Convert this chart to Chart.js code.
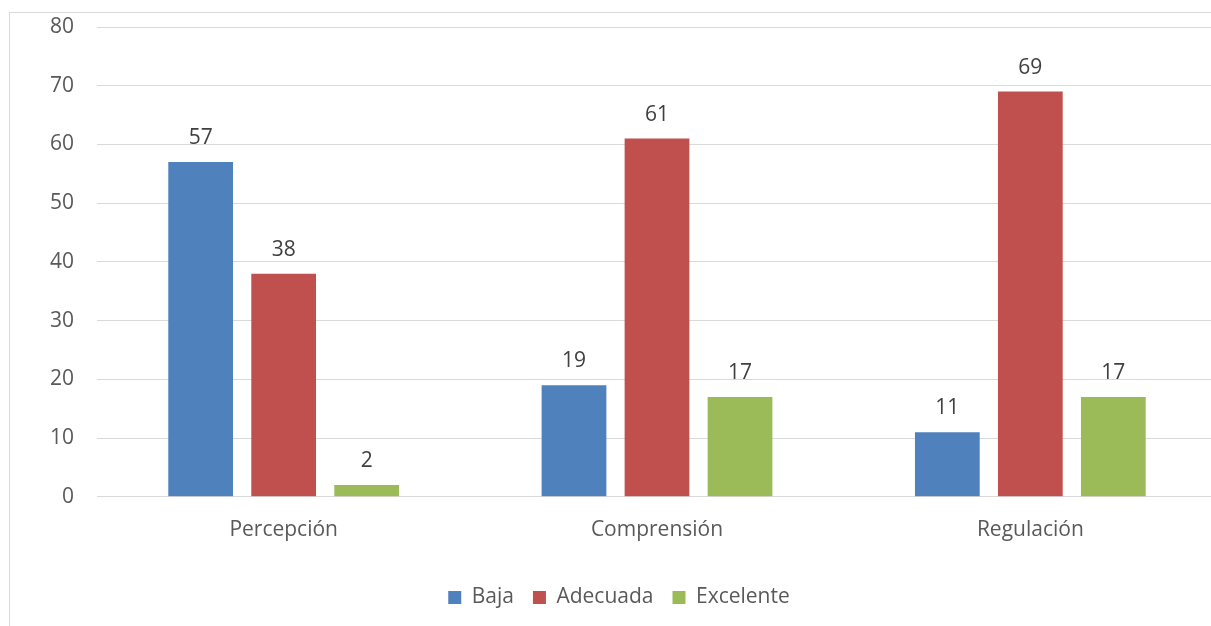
<!DOCTYPE html>
<html>
<head>
<meta charset="utf-8">
<script src="https://cdn.jsdelivr.net/npm/chart.js@4/dist/chart.umd.min.js"></script>
<style>
  html, body { margin: 0; padding: 0; background: #fff; overflow: hidden; }
  #wrap { position: absolute; left: 0; top: 0; width: 1240px; height: 626px; }
</style>
</head>
<body>
<div id="wrap"><canvas id="c"></canvas></div>
<script>
const categories = ['Percepción', 'Comprensión', 'Regulación'];
const seriesNames = ['Baja', 'Adecuada', 'Excelente'];
const baja = [57, 19, 11];
const adecuada = [38, 61, 69];
const excelente = [2, 17, 17];
const yTicks = [0, 10, 20, 30, 40, 50, 60, 70, 80];

const colors = ['#4F81BD', '#C0504D', '#9BBB59'];
const FONT = "'Open Sans', 'Noto Sans', sans-serif";
const FONT_SIZE = 21;

// Thin frame around the chart, like an office chart object
const framePlugin = {
  id: 'frame',
  beforeDraw(chart) {
    const ctx = chart.ctx;
    ctx.save();
    ctx.strokeStyle = '#d9d9d9';
    ctx.lineWidth = 1;
    ctx.strokeRect(9.5, 12.5, chart.width, chart.height);
    ctx.restore();
  }
};

// Value labels above each bar
const valueLabels = {
  id: 'valueLabels',
  afterDatasetsDraw(chart) {
    const ctx = chart.ctx;
    ctx.save();
    ctx.font = FONT_SIZE + 'px ' + FONT;
    ctx.fillStyle = '#404040';
    ctx.textAlign = 'center';
    ctx.textBaseline = 'middle';
    chart.data.datasets.forEach((ds, i) => {
      chart.getDatasetMeta(i).data.forEach((bar, j) => {
        ctx.fillText(String(ds.data[j]), bar.x, bar.y - 24);
      });
    });
    ctx.restore();
  }
};

new Chart(document.getElementById('c'), {
  type: 'bar',
  data: {
    labels: categories,
    datasets: [
      { label: seriesNames[0], data: baja, backgroundColor: colors[0] },
      { label: seriesNames[1], data: adecuada, backgroundColor: colors[1] },
      { label: seriesNames[2], data: excelente, backgroundColor: colors[2] }
    ]
  },
  options: {
    responsive: true,
    maintainAspectRatio: false,
    animation: false,
    datasets: { bar: { categoryPercentage: 0.667, barPercentage: 0.78 } },
    layout: { padding: { left: 21, right: 23, top: 27, bottom: 8 } },
    plugins: {
      legend: {
        position: 'bottom',
        labels: {
          font: { family: FONT, size: FONT_SIZE },
          color: '#595959',
          boxWidth: 13,
          boxHeight: 13,
          padding: 19
        }
      },
      tooltip: { enabled: false }
    },
    scales: {
      x: {
        grid: { display: false },
        border: { color: '#d9d9d9' },
        ticks: { font: { family: FONT, size: FONT_SIZE }, color: '#595959', padding: 13 },
        afterFit(scale) { scale.height += 12; }
      },
      y: {
        min: 0,
        max: 80,
        afterBuildTicks(scale) { scale.ticks = yTicks.map(v => ({ value: v })); },
        afterFit(scale) { scale.width = 76; scale.paddingTop = 0; scale.paddingBottom = 0; },
        grid: { color: '#d9d9d9', drawTicks: false },
        border: { display: false },
        ticks: { font: { family: FONT, size: FONT_SIZE }, color: '#595959', padding: 23 }
      }
    }
  },
  plugins: [framePlugin, valueLabels]
});
</script>
</body>
</html>
